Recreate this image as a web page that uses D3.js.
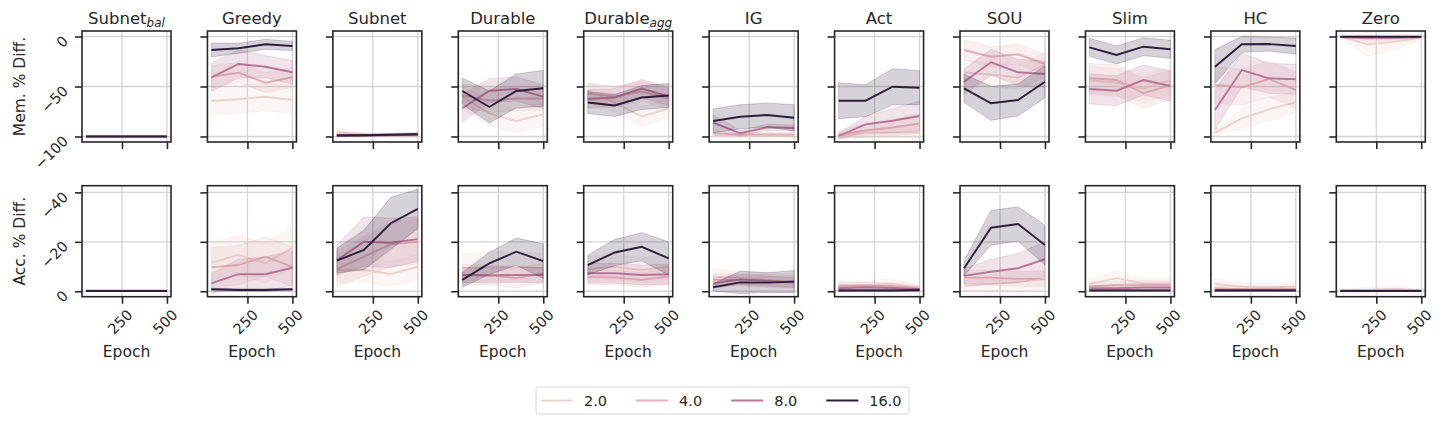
<!DOCTYPE html>
<html>
<head>
<meta charset="utf-8">
<script src="https://cdn.jsdelivr.net/npm/d3@7"></script>
<style>
  body { margin: 0; background: #fff; }
  text { font-family: "DejaVu Sans", sans-serif; fill: #262626; }
</style>
</head>
<body>
<div id="chart"></div>
<script>
// panel titles: [main text, italic subscript]
var titles = [["Subnet", "bal"], ["Greedy", ""], ["Subnet", ""], ["Durable", ""], ["Durable", "agg"],
              ["IG", ""], ["Act", ""], ["SOU", ""], ["Slim", ""], ["HC", ""], ["Zero", ""]];
var hues = [2.0, 4.0, 8.0, 16.0];
var epochs = [50, 200, 350, 500];
var epochTicks = [250, 500];
var memTicks = [0, -50, -100];
var accTicks = [-40, -20, 0];

// memory % diff, per panel -> per hue -> per epoch
var memMean = [
  [[-100, -100, -100, -100], [-100, -100, -100, -100], [-100, -100, -100, -100], [-100, -100, -100, -100]],
  [[-64.5, -62.8, -60.2, -63.5], [-40.2, -36.2, -46.2, -40.8], [-40.8, -27.5, -30.2, -35.8], [-13.5, -11.8, -7.8, -9.5]],
  [[-95.5, -98, -98.5, -98.5], [-98, -98.5, -98.5, -98], [-99, -99, -98.5, -98], [-99, -98.8, -98.3, -97.8]],
  [[-60, -76.8, -84.5, -77.8], [-59, -64, -62, -62], [-71.8, -54.2, -52.5, -60.2], [-54.5, -70.5, -54.5, -51.8]],
  [[-54, -66, -80, -72], [-57, -60, -55, -62], [-62.5, -61, -52, -60], [-66, -69, -61, -59]],
  [[-99, -99.5, -99, -99], [-97, -98, -98, -98], [-86.2, -96.8, -90.8, -91.5], [-84.5, -80.2, -78.5, -81.2]],
  [[-99, -97, -96, -96], [-98.5, -94, -91, -87], [-99.5, -87.8, -84.2, -79.5], [-64.2, -64.2, -50.2, -51.2]],
  [[-36, -38, -41, -28], [-13.5, -20.2, -17.8, -27.5], [-45.2, -25.8, -35.8, -37.5], [-51.8, -66.8, -63.5, -45.2]],
  [[-44, -46, -52, -44], [-41.8, -43.5, -56.8, -48.5], [-52.5, -54.2, -43.5, -49.5], [-10.8, -18.5, -10.2, -12.8]],
  [[-96.2, -81.8, -72.8, -65.8], [-48.5, -50.8, -42.5, -53.5], [-73.5, -33.5, -41.8, -42.8], [-30.2, -7.8, -7.5, -9.5]],
  [[-0.2, -7.8, -5.2, -1.2], [-0.5, -2, -1.5, -0.5], [-0.5, -1, -1, -0.5], [-0.3, -0.3, -0.3, -0.3]]
];
// half width of the confidence band
var memErr = [
  [0.3, 0.3, 0.3, 0.3],
  [14, [11, 10, 10, 10], [14, 14, 11, 12], [7, 5, 5, 4.5]],
  [[4, 2, 2, 3], [2, 1.5, 1.5, 2], [1, 1, 1, 1.5], 1],
  [12, 12, [14, 12, 12, 12], [13, 16, 17, 18]],
  [10, 10, 9, [11, 11, 12, 12]],
  [1, 2, [8, 3, 3, 3], [12, 12, 12, 13]],
  [[2, 4, 5, 6], [4, 7, 8, 10], [3, 8, 12, 15], [18, 16, 18, 17]],
  [12, 10, 13, [14, 17, 16, 16]],
  [14, 15, 15, 9],
  [[3, 10, 12, 10], 18, [20, 17, 15, 15], [17, 8, 7, 8]],
  [[1, 12, 8, 2], [1, 3, 2, 1], 0.5, 0.3]
];

// accuracy % diff
var accMean = [
  [[-0.3, -0.3, -0.3, -0.3], [-0.2, -0.2, -0.2, -0.2], [-0.1, -0.1, -0.1, -0.1], [-0.1, -0.1, -0.1, -0.1]],
  [[-11.6, -14.7, -11.3, -17.6], [-9.7, -10.6, -14, -9.9], [-3.2, -6.9, -6.9, -9.5], [-0.8, -0.5, -0.5, -0.8]],
  [[-8.6, -8.6, -7, -9.9], [-9, -14, -19, -20], [-12.6, -20, -19.6, -21.1], [-12.4, -16.7, -27.5, -33.3]],
  [[-9.3, -9.9, -9.9, -9.3], [-6.8, -6.6, -5.3, -7.3], [-6.6, -6.4, -6.6, -6.6], [-4.6, -11.3, -16, -12.2]],
  [[-9, -9.9, -8.6, -9.9], [-5.8, -5.6, -4.6, -6], [-7.3, -7.3, -6.6, -6.9], [-10.6, -15.7, -18, -13.3]],
  [[-5.9, -5.3, -4.6, -3.9], [-4.6, -4.6, -4.3, -3.9], [-3.2, -4.8, -4.2, -3.5], [-1.6, -3.6, -3.5, -3.9]],
  [[-2.6, -2.6, -3, -1.2], [-1.9, -2.2, -1.9, -0.9], [-1.2, -1.6, -1.3, -0.8], [-0.3, -0.3, -0.3, -0.5]],
  [[-2.2, -3, -3.8, -4.8], [-5.5, -5.5, -5, -5], [-6.2, -7.9, -9.3, -13], [-9.3, -25.7, -27.2, -18.7]],
  [[-3, -5.3, -3.2, -3.2], [-1.9, -2.6, -2.8, -2.6], [-1.2, -1.2, -1.5, -1.5], [-0.3, -0.3, -0.3, -0.3]],
  [[-3, -1.9, -1.6, -1.9], [-1.2, -0.8, -0.8, -0.9], [-0.5, -0.5, -0.5, -0.5], [-0.3, -0.3, -0.3, -0.3]],
  [[-0.3, -0.5, -1, -0.3], [-0.2, -0.2, -0.2, -0.2], [-0.2, -0.2, -0.2, -0.2], [-0.1, -0.1, -0.1, -0.1]]
];
var accErr = [
  [0.3, 0.3, 0.2, 0.2],
  [8, 8, [4, 6, 7, 7], 0.5],
  [5, [7, 8, 9, 9], [6, 10, 10, 9], [5, 8, 10.5, 8]],
  [6, 4, 3, [3, 4.5, 5.5, 7]],
  [5, 3, 4, [4, 5.3, 5.7, 6.7]],
  [3, 2.5, 2, [1.5, 4.5, 4, 4.5]],
  [[1.5, 1.5, 2, 1], 1.5, 1, 0.5],
  [[2, 3, 4, 4], 3, [3, 5, 6, 7], [3, 7, 7, 8]],
  [[2, 3, 2, 2], 1.5, 1, 0.3],
  [[2, 1.5, 1.5, 2], 1, 0.5, 0.3],
  [[0.5, 1, 1, 0.5], 0.3, 0.3, 0.2]
];

var svgWidth = 1446, svgHeight = 424;
var panelW = 89, panelH = 111;
var left0 = 82, step = 125.43;
var rowTop = [31, 185.7];
var ink = "#262626";

// seaborn default cubehelix palette for a numeric hue
function hueColor(v) {
  var t = (v - d3.min(hues)) / (d3.max(hues) - d3.min(hues));
  var x = 0.85 - 0.7 * t;
  var phi = 2 * Math.PI * (0.4 * x);
  var a = 0.8 * x * (1 - x) / 2;
  var c = Math.cos(phi), s = Math.sin(phi);
  var r = x + a * (-0.14861 * c + 1.78277 * s);
  var g = x + a * (-0.29227 * c - 0.90649 * s);
  var b = x + a * (1.97294 * c);
  var f = function(u) { return Math.round(255 * Math.max(0, Math.min(1, u))); };
  return d3.rgb(f(r), f(g), f(b)).formatHex();
}

var svg = d3.select("#chart").append("svg")
    .attr("width", svgWidth)
    .attr("height", svgHeight);

var x = d3.scaleLinear().domain([27.5, 522.5]).range([0, panelW]);
var yScales = [
  d3.scaleLinear().domain([-105.5, 5.5]).range([panelH, 0]),
  d3.scaleLinear().domain([2.2, -42.7]).range([panelH, 0])
];
var rowTicks = [memTicks, accTicks];
var rowMean = [memMean, accMean];
var rowErr = [memErr, accErr];

function errAt(e, k) { return Array.isArray(e) ? e[k] : e; }

var fmt = function(d) { return d < 0 ? "\u2212" + Math.abs(d) : String(d); };

[0, 1].forEach(function(row) {
  var y = yScales[row];
  titles.forEach(function(title, p) {
    var g = svg.append("g")
        .attr("transform", "translate(" + (left0 + p * step) + "," + rowTop[row] + ")");

    // grid
    g.append("g").selectAll("line").data(epochTicks).enter().append("line")
        .attr("x1", function(d) { return x(d); }).attr("x2", function(d) { return x(d); })
        .attr("y1", 0).attr("y2", panelH)
        .attr("stroke", "#d4d4d4").attr("stroke-width", 1.3);
    g.append("g").selectAll("line").data(rowTicks[row]).enter().append("line")
        .attr("y1", function(d) { return y(d); }).attr("y2", function(d) { return y(d); })
        .attr("x1", 0).attr("x2", panelW)
        .attr("stroke", "#d4d4d4").attr("stroke-width", 1.3);

    var clipId = "clip" + row + "_" + p;
    g.append("clipPath").attr("id", clipId)
      .append("rect").attr("width", panelW).attr("height", panelH);
    var plot = g.append("g").attr("clip-path", "url(#" + clipId + ")");

    hues.forEach(function(h, s) {
      var mean = rowMean[row][p][s];
      var err = rowErr[row][p][s];
      var pts = epochs.map(function(e, k) {
        return { e: e, m: mean[k], lo: mean[k] - errAt(err, k), hi: mean[k] + errAt(err, k) };
      });
      var col = hueColor(h);
      var area = d3.area().x(function(d) { return x(d.e); })
          .y0(function(d) { return y(d.lo); }).y1(function(d) { return y(d.hi); });
      var line = d3.line().x(function(d) { return x(d.e); }).y(function(d) { return y(d.m); });
      plot.append("path").datum(pts).attr("d", area)
          .attr("fill", col).attr("fill-opacity", 0.2)
          .attr("stroke", col).attr("stroke-opacity", 0.2).attr("stroke-width", 1);
      plot.append("path").datum(pts).attr("d", line)
          .attr("fill", "none").attr("stroke", col).attr("stroke-width", 1.9);
    });

    // frame
    g.append("rect").attr("width", panelW).attr("height", panelH)
        .attr("fill", "none").attr("stroke", ink).attr("stroke-width", 1.6);

    // ticks
    var bottomAxis = d3.axisBottom(x).tickValues(epochTicks).tickSize(7).tickSizeOuter(0);
    var leftAxis = d3.axisLeft(y).tickValues(rowTicks[row]).tickSize(7).tickSizeOuter(0);
    var bx = g.append("g").attr("transform", "translate(0," + panelH + ")").call(bottomAxis);
    var ly = g.append("g").call(leftAxis);
    [bx, ly].forEach(function(ax) {
      ax.select(".domain").remove();
      ax.selectAll(".tick line").attr("stroke", ink).attr("stroke-width", 1.6);
      ax.selectAll(".tick text").remove();
    });

    if (row === 1) {
      bx.selectAll(".tick").append("text")
          .attr("text-anchor", "end")
          .attr("transform", "translate(11,19) rotate(-45)")
          .style("font-size", "14.5px")
          .text(function(d) { return d; });
      g.append("text").attr("x", panelW / 2).attr("y", 357 - rowTop[row])
          .attr("text-anchor", "middle").style("font-size", "15.5px").text("Epoch");
    }
    if (p === 0) {
      ly.selectAll(".tick").append("text")
          .attr("text-anchor", "end")
          .attr("transform", "translate(-13,5) rotate(-45)")
          .style("font-size", "14.5px")
          .text(fmt);
    }
    if (row === 0) {
      var t = g.append("text").attr("x", panelW / 2).attr("y", -7)
          .attr("text-anchor", "middle").style("font-size", "16.5px");
      t.append("tspan").text(title[0]);
      if (title[1]) {
        t.append("tspan").attr("dy", 3).style("font-size", "12px")
            .style("font-style", "italic").text(title[1]);
      }
    }
  });
});

// row labels
var rowLabels = ["Mem. % Diff.", "Acc. % Diff."];
rowLabels.forEach(function(lbl, row) {
  svg.append("text")
      .attr("transform", "translate(25," + (rowTop[row] + panelH / 2) + ") rotate(-90)")
      .attr("text-anchor", "middle").style("font-size", "15.5px").text(lbl);
});

// legend
var legend = svg.append("g").attr("transform", "translate(536,387)");
legend.append("rect").attr("width", 373).attr("height", 27).attr("rx", 2)
    .attr("fill", "#fff").attr("stroke", "#d6d6d6").attr("stroke-width", 1);
var item = legend.selectAll(".item").data(hues).enter().append("g")
    .attr("transform", function(d, i) { return "translate(" + (5 + i * 95.1) + ",13.5)"; });
item.append("line").attr("x1", 0).attr("x2", 32)
    .attr("stroke", function(d) { return hueColor(d); }).attr("stroke-width", 1.9);
item.append("text").attr("x", 43).attr("y", 5.2).style("font-size", "14.5px")
    .text(function(d) { return d.toFixed(1); });
</script>
</body>
</html>
